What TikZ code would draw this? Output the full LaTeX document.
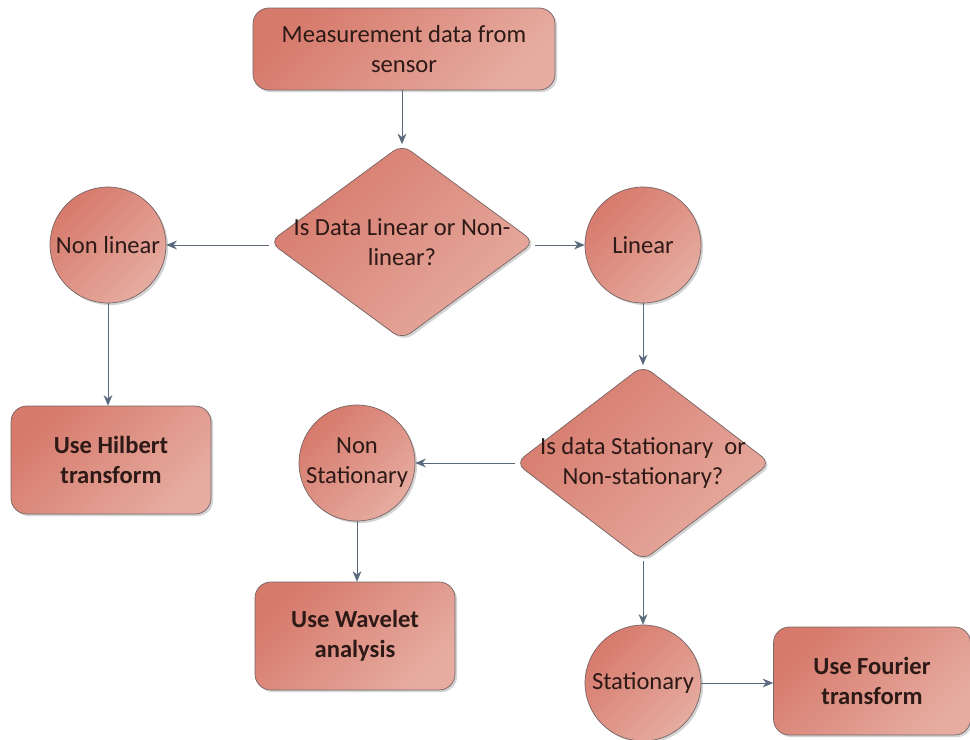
\documentclass[tikz,border=0pt]{standalone}
\usepackage{fontspec}
\setmainfont{Carlito}
\usetikzlibrary{shapes.geometric,shadows,arrows.meta}
\definecolor{boxdark}{RGB}{214,122,108}
\definecolor{boxlight}{RGB}{230,172,160}
\definecolor{boxedge}{RGB}{120,100,100}
\definecolor{linkgrey}{RGB}{90,105,125}
\definecolor{txt}{RGB}{45,25,22}

\begin{document}
\begin{tikzpicture}[x=0.02cm, y=-0.02cm]
		\tikzstyle{every node} = [font = \fontsize{14}{17}\selectfont, text = txt, align = center]
		\tikzstyle{shade} = [draw = boxedge, top color = boxdark, bottom color = boxlight, shading angle = 45,
			drop shadow = {opacity = .35, shadow xshift = 1.2pt, shadow yshift = -1.2pt}]
		\tikzstyle{stepbox} = [shade, rectangle, rounded corners = 9pt, minimum width = 4cm, minimum height = 2.16cm]
		\tikzstyle{decide} = [shade, diamond, rounded corners = 6pt, aspect = 1.43, inner sep = -6pt,
			minimum width = 5.3cm, minimum height = 3.9cm]
		\tikzstyle{state} = [shade, circle, inner sep = 0pt, minimum size = 2.32cm]
		\tikzstyle{link} = [draw = linkgrey, -{Stealth[length = 6pt, width = 5pt]}]

		\useasboundingbox (0,0) rectangle (970,740);

		%top of the chart
		\node [stepbox, minimum width = 6.04cm, minimum height = 1.64cm] (sensor) at (404,49) {Measurement data from\\sensor};
		\node [decide] (lin) at (402,242) {Is Data Linear or Non-\\linear?};

		%left branch
		\node [state] (nonlin) at (108,245) {Non linear};
		\node [stepbox, font = \fontsize{14}{17}\selectfont\bfseries] (hilbert) at (111,460) {Use Hilbert\\transform};

		%right branch
		\node [state] (linear) at (643,245) {Linear};
		\node [decide, minimum width = 5.1cm, minimum height = 3.9cm] (stat) at (643,463) {Is data Stationary~ or\\Non-stationary?};
		\node [state] (nonstat) at (357,463) {Non\\Stationary};
		\node [stepbox, font = \fontsize{14}{17}\selectfont\bfseries] (wavelet) at (355,636) {Use Wavelet\\analysis};
		\node [state] (station) at (643,683) {Stationary};
		\node [stepbox, font = \fontsize{14}{17}\selectfont\bfseries, minimum width = 3.94cm] (fourier) at (872,681) {Use Fourier\\transform};

		\draw [link] (sensor.south -| lin.north) -- (lin.north); %sensor to first test
		\draw [link] (lin.west |- nonlin.east) -- (nonlin.east);
		\draw [link] (lin.east |- linear.west) -- (linear.west);
		\draw [link] (nonlin.south) -- (nonlin.south |- hilbert.north);
		\draw [link] (linear.south) -- (stat.north);
		\draw [link] (stat.west) -- (nonstat.east);
		\draw [link] (nonstat.south) -- (nonstat.south |- wavelet.north);
		\draw [link] (stat.south) -- (station.north);
		\draw [link] (station.east) -- (station.east -| fourier.west);
	\end{tikzpicture}
\end{document}
